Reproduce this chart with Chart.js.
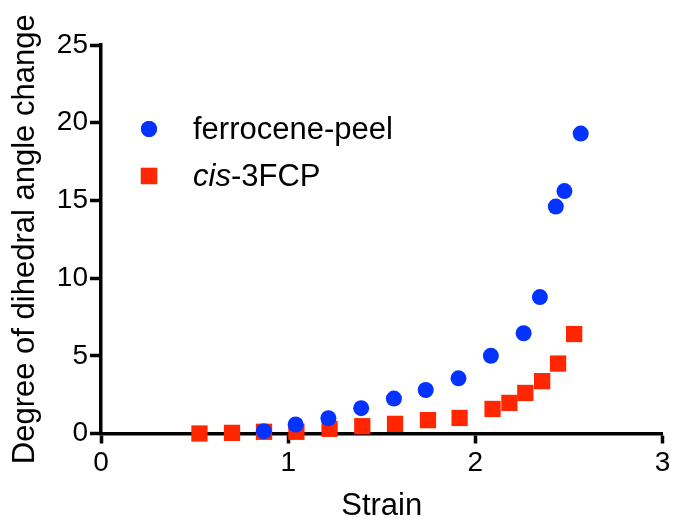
<!DOCTYPE html>
<html>
<head>
<meta charset="utf-8">
<script src="https://cdn.jsdelivr.net/npm/chart.js@4"></script>
<style>
  html, body { margin: 0; padding: 0; background: #fff; }
  #wrap { width: 674px; height: 522px; }
</style>
</head>
<body>
<div id="wrap"><canvas id="c" width="674" height="522"></canvas></div>
<script>
// Strain vs. degree of dihedral angle change
const ferroStrain = [0.87, 1.04, 1.215, 1.39, 1.565, 1.735, 1.91, 2.083, 2.258, 2.345, 2.43, 2.476, 2.563];
const ferroAngle  = [0.15, 0.58, 0.98, 1.63, 2.25, 2.8, 3.55, 5.0, 6.45, 8.78, 14.6, 15.6, 19.3];

const cisStrain = [0.526, 0.70, 0.871, 1.044, 1.221, 1.396, 1.571, 1.747, 1.916, 2.092, 2.182, 2.267, 2.357, 2.442, 2.528];
const cisAngle  = [0.0, 0.04, 0.11, 0.11, 0.3, 0.47, 0.62, 0.86, 1.0, 1.58, 1.97, 2.61, 3.37, 4.5, 6.4];

const xTickValues = [0, 1, 2, 3];
const yTickValues = [0, 5, 10, 15, 20, 25];

const FONT = '"Liberation Sans", Arial, Helvetica, sans-serif';
const BLUE = '#0433FF';
const RED = '#FF2600';

const toPoints = (xs, ys) => xs.map((x, i) => ({ x, y: ys[i] }));
const noPadding = () => ({ left: 0, top: 0, right: 0, bottom: 0 });

// Legend drawn inside the plot, with the italic "cis" prefix
const insideLegend = {
  id: 'insideLegend',
  afterDatasetsDraw(chart) {
    const { ctx, chartArea } = chart;
    const x0 = chartArea.left + 48;
    const tx = chartArea.left + 92;
    const rows = [
      { y: chartArea.top + 84, ds: 0, parts: [{ t: 'ferrocene-peel', it: false }] },
      { y: chartArea.top + 131, ds: 1, parts: [{ t: 'cis', it: true }, { t: '-3FCP', it: false }] }
    ];
    ctx.save();
    rows.forEach(r => {
      const d = chart.data.datasets[r.ds];
      Chart.helpers.drawPoint(ctx, {
        pointStyle: d.pointStyle, radius: d.pointRadius, borderWidth: 0, rotation: 0
      }, x0, r.y);
      ctx.fillStyle = d.backgroundColor;
      ctx.fill();
      let x = tx;
      ctx.fillStyle = '#000';
      ctx.textBaseline = 'middle';
      ctx.textAlign = 'left';
      r.parts.forEach(p => {
        ctx.font = (p.it ? 'italic ' : '') + '31px ' + FONT;
        ctx.fillText(p.t, x, r.y + 1);
        x += ctx.measureText(p.t).width;
      });
    });
    ctx.restore();
  }
};

new Chart(document.getElementById('c'), {
  type: 'scatter',
  data: {
    datasets: [
      { label: 'ferrocene-peel', data: toPoints(ferroStrain, ferroAngle), pointStyle: 'circle', pointRadius: 8, backgroundColor: BLUE, borderWidth: 0, clip: false },
      { label: 'cis-3FCP', data: toPoints(cisStrain, cisAngle), pointStyle: 'rect', pointRadius: 11.5, backgroundColor: RED, borderWidth: 0, clip: false }
    ]
  },
  options: {
    responsive: false,
    animation: false,
    events: [],
    layout: { padding: { left: 0, right: 7, top: 45, bottom: 0 } },
    plugins: { legend: { display: false }, tooltip: { enabled: false } },
    scales: {
      x: {
        type: 'linear', min: 0, max: 3,
        afterBuildTicks: s => { s.ticks = xTickValues.map(v => ({ value: v })); },
        afterFit: s => { s.height = 88.5; s.paddingRight = 0; s.paddingLeft = 0; s.getPadding = noPadding; },
        border: { display: true, color: '#000', width: 3.5 },
        grid: { drawOnChartArea: false, tickLength: 10, tickWidth: 3.5, tickColor: '#000' },
        ticks: { color: '#000', padding: 3, font: { family: FONT, size: 28 } },
        title: { display: true, text: 'Strain', color: '#000', font: { family: FONT, size: 31, lineHeight: 1 }, padding: { top: 0, bottom: 0 } }
      },
      y: {
        type: 'linear', min: 0, max: 25,
        afterBuildTicks: s => { s.ticks = yTickValues.map(v => ({ value: v })); },
        afterFit: s => { s.width = 101; s.paddingTop = 0; s.paddingBottom = 0; s.getPadding = noPadding; },
        border: { display: true, color: '#000', width: 3.5 },
        grid: { drawOnChartArea: false, tickLength: 11, tickWidth: 3.5, tickColor: '#000' },
        ticks: { color: '#000', padding: 2, font: { family: FONT, size: 28 } },
        title: { display: true, text: 'Degree of dihedral angle change', color: '#000', font: { family: FONT, size: 31, lineHeight: 1 }, padding: { top: 10, bottom: 0 } }
      }
    }
  },
  plugins: [insideLegend]
});
</script>
</body>
</html>
